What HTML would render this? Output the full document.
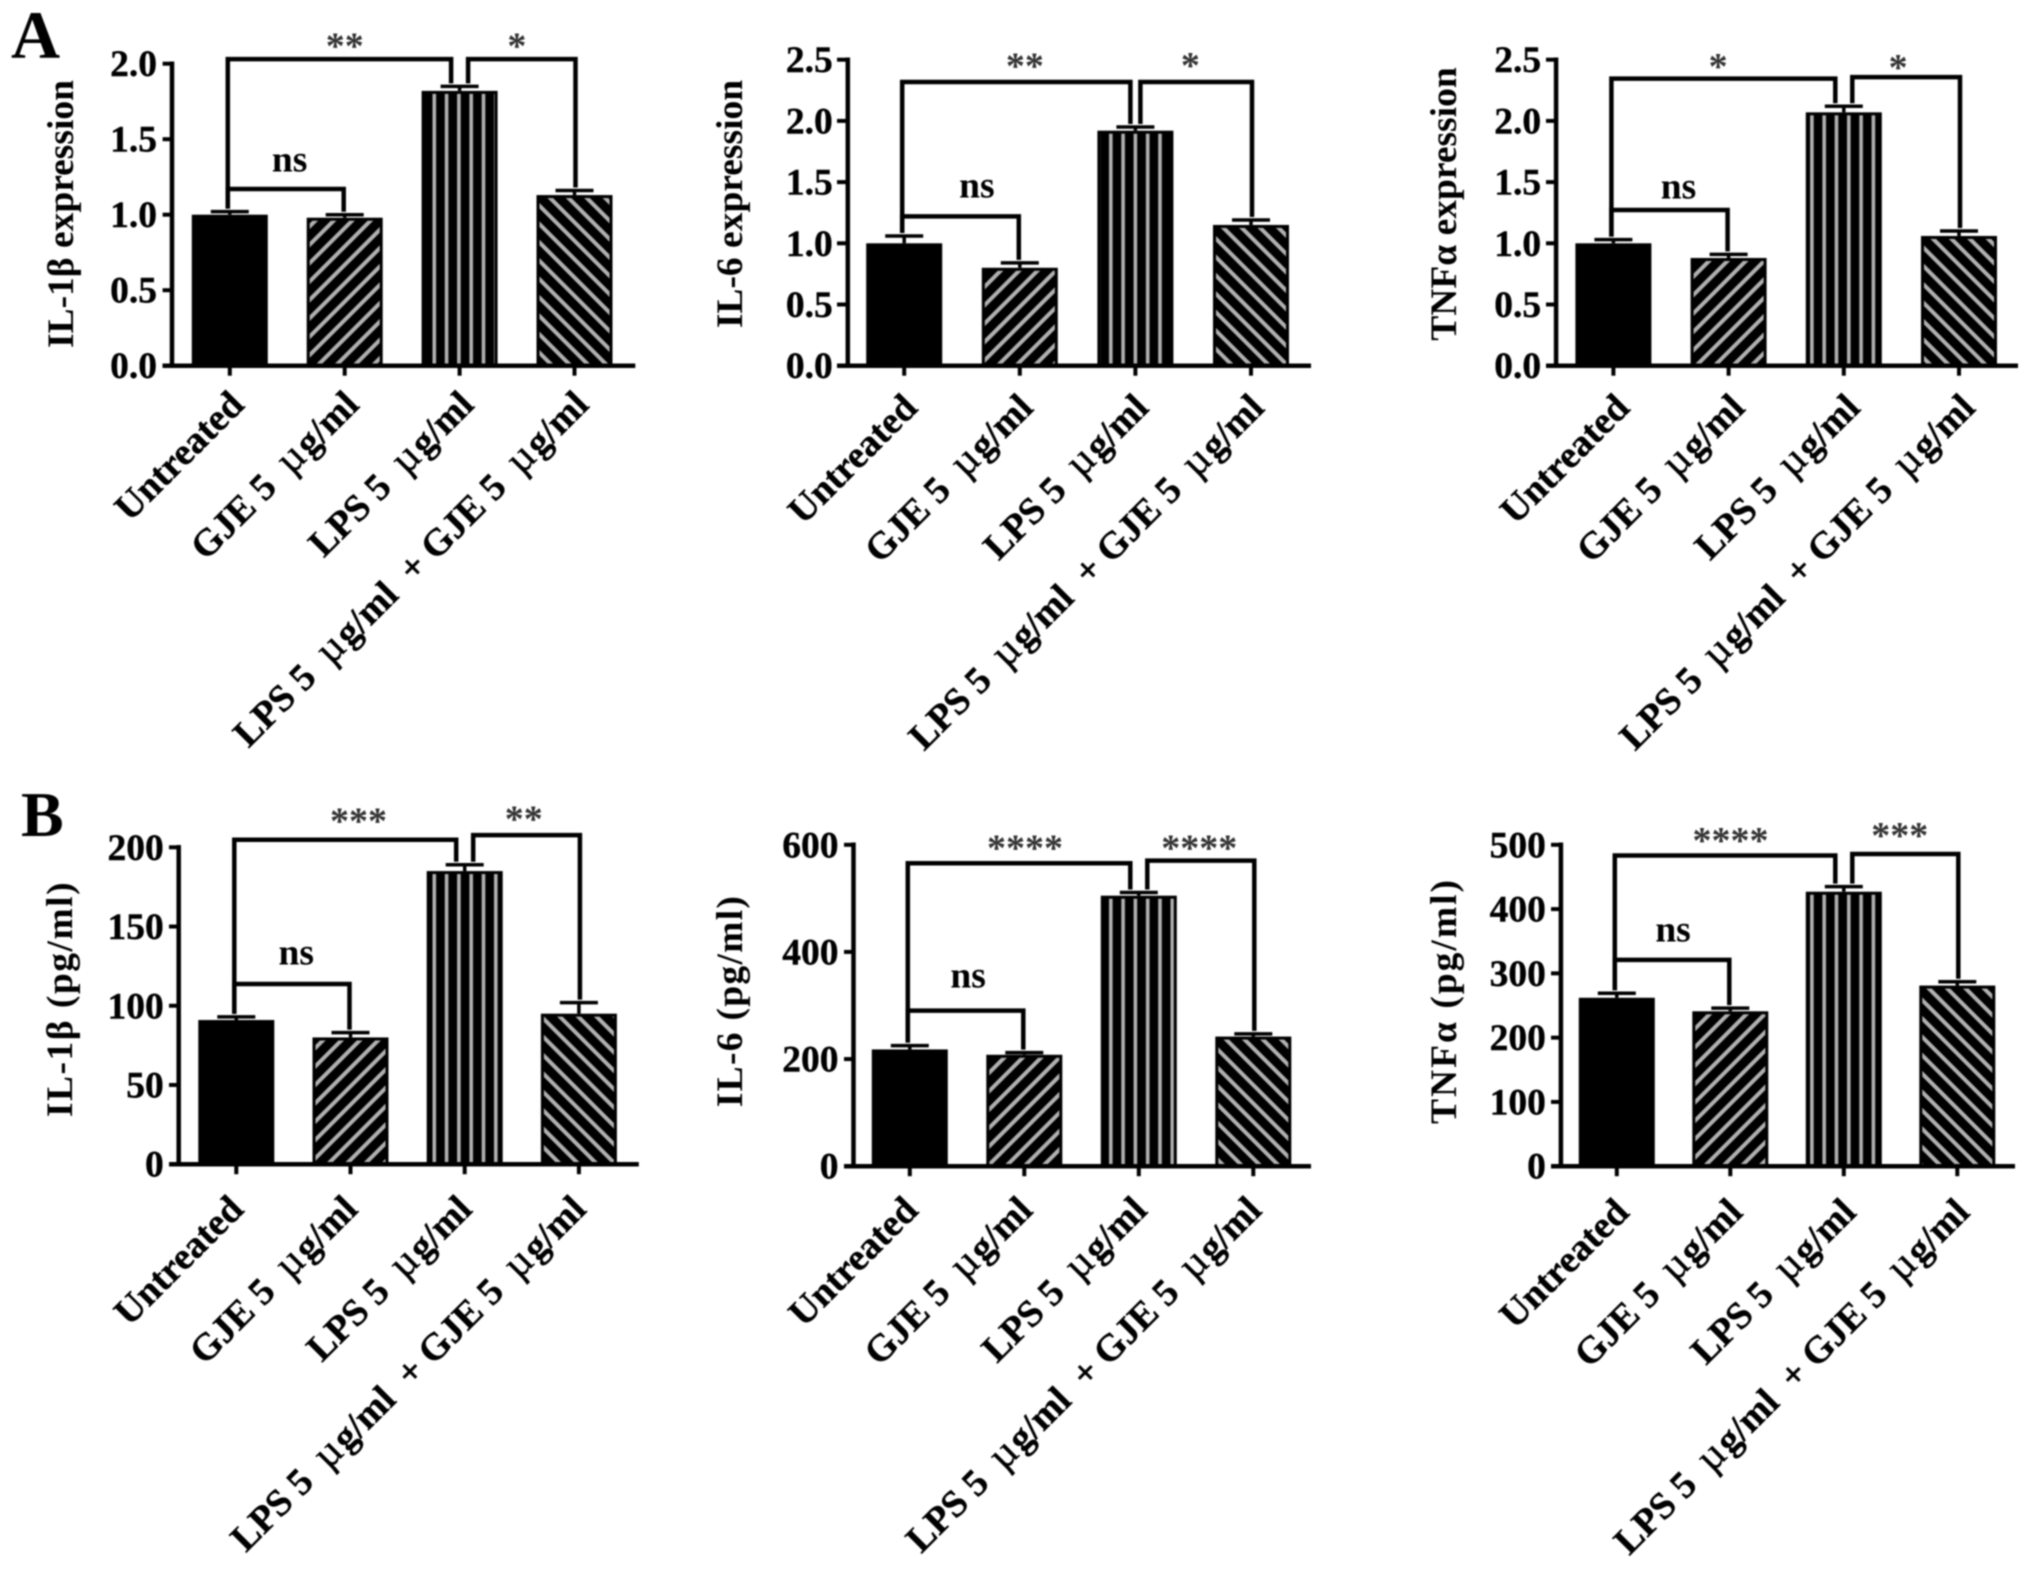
<!DOCTYPE html>
<html lang="en">
<head>
<meta charset="utf-8">
<title>Cytokine expression bar charts</title>
<style>
  html, body { margin: 0; padding: 0; background: #fff; }
  #figure { display: block; filter: blur(0.7px); }
  text { font-family: "Liberation Serif", "DejaVu Serif", serif; font-weight: bold; fill: #000; white-space: pre; }
  .heavy { stroke: #000; stroke-width: 0.4px; }
</style>
</head>
<body>
<svg id="figure" xmlns="http://www.w3.org/2000/svg" width="2031" height="1580" viewBox="0 0 2031 1580">
  <defs>
    <pattern id="hatch-up" patternUnits="userSpaceOnUse" width="13" height="13" patternTransform="rotate(45)">
      <rect width="13" height="13" fill="#000"/>
      <rect x="0" width="4" height="13" fill="#b0b0b0"/>
    </pattern>
    <pattern id="hatch-down" patternUnits="userSpaceOnUse" width="13" height="13" patternTransform="rotate(-45)">
      <rect width="13" height="13" fill="#000"/>
      <rect x="0" width="4" height="13" fill="#b0b0b0"/>
    </pattern>
    <pattern id="hatch-vertical" patternUnits="userSpaceOnUse" x="2" width="12.3" height="15">
      <rect width="12.3" height="15" fill="#000"/>
      <rect x="0" width="3.6" height="15" fill="#b0b0b0"/>
    </pattern>
  </defs>
  <rect width="2031" height="1580" fill="#fff"/>
  <text x="11" y="58" font-size="68">A</text>
  <text x="21" y="836" font-size="64">B</text>
  <g id="charts"></g>
</svg>
<script>
// ---- Data ----
const categories = ["Untreated", "GJE 5 µg/ml", "LPS 5 µg/ml", "LPS 5 µg/ml  + GJE 5 µg/ml"];

const il1bExprValues = [1.0, 0.98, 1.82, 1.13];
const il1bExprErrors = [0.02, 0.02, 0.03, 0.03];
const il1bExprTicks = ["0.0", "0.5", "1.0", "1.5", "2.0"];
const il1bExprBrackets = [2.03, 2.03, 1.17];
const il1bExprSig = ["**", "*", "ns"];

const il6ExprValues = [1.0, 0.80, 1.92, 1.15];
const il6ExprErrors = [0.06, 0.04, 0.03, 0.04];
const il6ExprTicks = ["0.0", "0.5", "1.0", "1.5", "2.0", "2.5"];
const il6ExprBrackets = [2.318, 2.318, 1.22];
const il6ExprSig = ["**", "*", "ns"];

const tnfExprValues = [1.0, 0.88, 2.07, 1.06];
const tnfExprErrors = [0.03, 0.03, 0.05, 0.04];
const tnfExprTicks = ["0.0", "0.5", "1.0", "1.5", "2.0", "2.5"];
const tnfExprBrackets = [2.345, 2.358, 1.272];
const tnfExprSig = ["*", "*", "ns"];

const il1bConcValues = [91, 80, 185, 95];
const il1bConcErrors = [2, 3, 4, 7];
const il1bConcTicks = ["0", "50", "100", "150", "200"];
const il1bConcBrackets = [204.8, 207.7, 113.7];
const il1bConcSig = ["***", "**", "ns"];

const il6ConcValues = [218, 208, 505, 242];
const il6ConcErrors = [7, 4, 6, 5];
const il6ConcTicks = ["0", "200", "400", "600"];
const il6ConcBrackets = [565.6, 570.5, 290.5];
const il6ConcSig = ["****", "****", "ns"];

const tnfConcValues = [262, 241, 427, 281];
const tnfConcErrors = [7, 5, 8, 6];
const tnfConcTicks = ["0", "100", "200", "300", "400", "500"];
const tnfConcBrackets = [483.3, 485.7, 321];
const tnfConcSig = ["****", "***", "ns"];

// ---- Panel layout (pixel geometry only) ----
const panels = [
  { id: "il-1b-expression", title: "IL-1β expression", values: il1bExprValues, errors: il1bExprErrors, ticks: il1bExprTicks, brackets: il1bExprBrackets, sig: il1bExprSig,
    axisX: 172, axisStart: 162.6, axisEnd: 635.3, top: 63.7, base: 365.7, first: 229.8, step: 114.9, gap: 8.5,
    titleX: 60, titleY: 214, titleSpacing: 0, catDx: 16, catDy: 41, labelShift: [[5.3, 18.7], [-4.9, 18.7], [3.9, 26]] },
  { id: "il-6-expression", title: "IL-6 expression", values: il6ExprValues, errors: il6ExprErrors, ticks: il6ExprTicks, brackets: il6ExprBrackets, sig: il6ExprSig,
    axisX: 847.8, axisStart: 837, axisEnd: 1311, top: 59.7, base: 365.7, first: 904.2, step: 115.6, gap: 5,
    titleX: 729, titleY: 204, titleSpacing: 0, catDx: 15, catDy: 44, labelShift: [[8.6, 21.3], [-5.8, 22], [16.4, 27.4]] },
  { id: "tnfa-expression", title: "TNFα expression", values: tnfExprValues, errors: tnfExprErrors, ticks: tnfExprTicks, brackets: tnfExprBrackets, sig: tnfExprSig,
    axisX: 1556.1, axisStart: 1546, axisEnd: 2018, top: 59.7, base: 365.7, first: 1613.4, step: 115.2, gap: 8.5,
    titleX: 1443, titleY: 204, titleSpacing: 0, catDx: 18, catDy: 44, labelShift: [[-5.2, 17.9], [-8, 15.1], [9, 20]] },
  { id: "il-1b-concentration", title: "IL-1β (pg/ml)", values: il1bConcValues, errors: il1bConcErrors, ticks: il1bConcTicks, brackets: il1bConcBrackets, sig: il1bConcSig,
    axisX: 178.7, axisStart: 169, axisEnd: 638.8, top: 847.3, base: 1164.2, first: 236.3, step: 114.2, gap: 8.5,
    titleX: 59, titleY: 999, titleSpacing: 1.5, catDx: 9, catDy: 47, labelShift: [[13.2, 24], [-2.8, 21.4], [4.3, 28]] },
  { id: "il-6-concentration", title: "IL-6 (pg/ml)", values: il6ConcValues, errors: il6ConcErrors, ticks: il6ConcTicks, brackets: il6ConcBrackets, sig: il6ConcSig,
    axisX: 853.5, axisStart: 844, axisEnd: 1311, top: 844.8, base: 1166.2, first: 909.8, step: 114.5, gap: 8.5,
    titleX: 729, titleY: 1001, titleSpacing: 1.3, catDx: 10, catDy: 46, labelShift: [[6, 20.5], [-1.5, 17.9], [2.6, 31.6]] },
  { id: "tnfa-concentration", title: "TNFα (pg/ml)", values: tnfConcValues, errors: tnfConcErrors, ticks: tnfConcTicks, brackets: tnfConcBrackets, sig: tnfConcSig,
    axisX: 1560.9, axisStart: 1551, axisEnd: 2015, top: 844.8, base: 1166.2, first: 1616.8, step: 113.5, gap: 8.5,
    titleX: 1443, titleY: 1001, titleSpacing: 2, catDx: 14, catDy: 48, labelShift: [[5.4, 20.5], [-5.5, 24], [1, 27]] }
];

const fills = ["#000", "url(#hatch-up)", "url(#hatch-vertical)", "url(#hatch-down)"];
const barNames = ["untreated", "gje", "lps", "lps-gje"];
const BAR_W = 76, BORDER = 3, AXIS_SW = 4.5, FONT = 37.5;
const NS = "http://www.w3.org/2000/svg";
const root = document.getElementById("charts");

function make(parent, tag, attrs, text) {
  const el = document.createElementNS(NS, tag);
  for (const k in attrs) el.setAttribute(k, attrs[k]);
  if (text !== undefined) el.textContent = text;
  parent.appendChild(el);
  return el;
}

// Category text, with the mu drawn lighter and wider as in the original figure's symbol font.
function fillCategory(textEl, name) {
  name.split("µ").forEach((part, i) => {
    if (i > 0) {
      const mu = make(textEl, "tspan", { dx: 9, "font-size": 42, "letter-spacing": 2, style: "font-weight:normal" }, "µ");
      
      
    }
    make(textEl, "tspan", {}, part);
  });
}

function drawPanel(p) {
  const group = make(root, "g", {});
  
  

  const maxTick = Number(p.ticks[p.ticks.length - 1]);
  const y = v => p.base - (v / maxTick) * (p.base - p.top);
  const x = i => p.first + i * p.step;

  // bars and error bars
  p.values.forEach((v, i) => {
    const barTop = y(v) + BORDER / 2;
    const bar = make(group, "rect", { x: x(i) - BAR_W / 2 + BORDER / 2, y: barTop, width: BAR_W - BORDER, height: p.base - barTop, fill: fills[i], stroke: "#000", "stroke-width": BORDER });
    
    

    const top = y(v + p.errors[i]);
    const stem = make(group, "line", { x1: x(i), x2: x(i), y1: y(v), y2: top, stroke: "#000", "stroke-width": 3.5 });
    
    

    const cap = make(group, "line", { x1: x(i) - 19, x2: x(i) + 19, y1: top, y2: top, stroke: "#000", "stroke-width": 3.5 });
    
    
  });

  // axes
  const yAxis = make(group, "line", { x1: p.axisX, x2: p.axisX, y1: p.top - AXIS_SW / 2, y2: p.base, stroke: "#000", "stroke-width": AXIS_SW });
  
  

  const xAxis = make(group, "line", { x1: p.axisStart, x2: p.axisEnd, y1: p.base, y2: p.base, stroke: "#000", "stroke-width": AXIS_SW });
  
  

  p.ticks.forEach(label => {
    const ty = y(Number(label));
    const tick = make(group, "line", { x1: p.axisStart, x2: p.axisX, y1: ty, y2: ty, stroke: "#000", "stroke-width": 4 });
    
    

    const t = make(group, "text", { x: p.axisX - 15, y: ty + 12.5, "text-anchor": "end", "font-size": FONT, class: "heavy" }, label);
    
    
  });

  categories.forEach((name, i) => {
    const tick = make(group, "line", { x1: x(i), x2: x(i), y1: p.base, y2: p.base + 10, stroke: "#000", "stroke-width": 4 });
    
    

    const ax = x(i) + p.catDx, ay = p.base + p.catDy;
    const t = make(group, "text", { x: ax, y: ay, "text-anchor": "end", "font-size": 38, class: "heavy", transform: "rotate(-45 " + ax + " " + ay + ")" });
    
    
    fillCategory(t, name);
  });

  const title = make(group, "text", { x: p.titleX + 13, y: p.titleY, "text-anchor": "middle", "font-size": FONT, "letter-spacing": p.titleSpacing, transform: "rotate(-90 " + (p.titleX + 13) + " " + p.titleY + ")" }, p.title);
  
  

  // significance brackets, anchored to the error-bar tops
  const topOf = i => y(p.values[i] + p.errors[i]) - 3;
  const spans = [
    { a: x(0) - 2, b: x(2) - p.gap, ya: topOf(0), yb: topOf(2), level: p.brackets[0] },
    { a: x(2) + p.gap, b: x(3) + 1, ya: topOf(2), yb: topOf(3), level: p.brackets[1] },
    { a: x(0) - 2, b: x(1) - 1, ya: topOf(0), yb: topOf(1), level: p.brackets[2] }
  ];
  spans.forEach((s, i) => {
    const ly = y(s.level);
    const path = make(group, "path", { d: "M" + s.a + " " + s.ya + "V" + ly + "H" + s.b + "V" + s.yb, fill: "none", stroke: "#000", "stroke-width": 4.5 });
    
    

    const label = p.sig[i];
    const isNs = label === "ns";
    const cx = (s.a + s.b) / 2 + p.labelShift[i][0];
    const cy = ly - p.labelShift[i][1];
    const t = make(group, "text", { x: cx, y: cy + (isNs ? 8.5 : 18), "text-anchor": "middle", "font-size": isNs ? FONT : 38, style: "fill:" + (isNs ? "#000" : "#333") }, label);
    
    
  });
}

panels.forEach(drawPanel);
</script>
</body>
</html>
